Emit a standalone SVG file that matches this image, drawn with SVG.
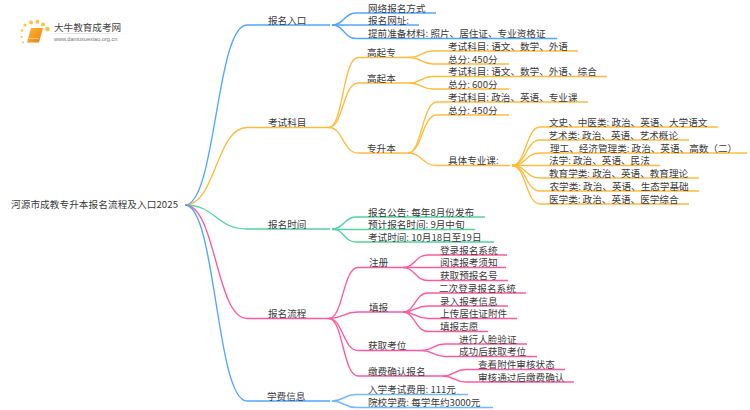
<svg xmlns="http://www.w3.org/2000/svg" width="750" height="410" viewBox="0 0 750 410">
<defs>
<linearGradient id="fade" x1="0" x2="1" y1="0" y2="0"><stop offset="0" stop-color="#ddd" stop-opacity="0"/><stop offset="0.3" stop-color="#ddd"/><stop offset="1" stop-color="#ddd" stop-opacity="0"/></linearGradient>
<linearGradient id="bk" x1="0" x2="1" y1="0" y2="1"><stop offset="0" stop-color="#fdb92e"/><stop offset="1" stop-color="#ee7d12"/></linearGradient>
</defs>
<style>
text{font-family:"Noto Sans CJK SC","Noto Sans",sans-serif;font-size:9.6px;fill:#3a3a3a}
path{fill:none;stroke-width:1.35}
.b path{stroke:#4fa6ff}
.o path{stroke:#ffbb3d}
.g path{stroke:#52d49c}
.p path{stroke:#ff5a9f}
.l path{stroke:#74b9ff;stroke-width:1.5}
.d{fill:#fdc13f}
</style>
<rect width="750" height="410" fill="#fff"/>
<g id="logo">
<circle class="d" cx="22" cy="30.5" r="1.3"/><circle class="d" cx="25" cy="25" r="1.6"/><circle class="d" cx="31" cy="22.5" r="2"/><circle class="d" cx="37.500" cy="21.800" r="2"/><circle class="d" cx="43" cy="24.500" r="2"/><circle class="d" cx="47.500" cy="29" r="2.300"/><circle class="d" cx="21.500" cy="37" r="1"/><circle class="d" cx="23" cy="42.500" r="1"/>
<path d="M31 28H43L39 42.500H27Z" style="fill:url(#bk);stroke:none"/>
<path d="M29 38.500H39" style="stroke:#ffe0a0;stroke-width:.8"/>
<rect x="45" y="33" width="88" height="1" fill="url(#fade)"/>
<text x="54" y="30.500" style="font-size:9.600px;fill:#444">大牛教育成考网</text>
<text x="54" y="41" style="font-size:5.600px;fill:#777;font-family:'Liberation Sans',sans-serif">www.daniuxuexiao.org.cn</text>
</g>
<g id="connectors">
<g class="b">
<path d="M185 205C216 205 216 25 247 25H330"/>
<path d="M332 25C344 25 344 13 356 13H436"/>
<path d="M332 25H419"/>
<path d="M332 25C344 25 344 38.500 356 38.500H557"/>
</g>
<g class="o">
<path d="M185 205C216 205 216 127.500 247 127.500H330"/>
<path d="M329 127.500C343 127.500 343 57.500 358 57.500H410"/>
<path d="M329 127.500C343 127.500 343 83 358 83H410"/>
<path d="M329 127.500C343 127.500 343 153 358 153H408"/>
<path d="M410 57.500C421 57.500 421 51 433 51H578"/>
<path d="M410 57.500C421 57.500 421 64 433 64H509"/>
<path d="M410 83C421 83 421 76.500 433 76.500H607"/>
<path d="M410 83C421 83 421 89 433 89H509"/>
<path d="M408 153C422 153 422 102 437 102H588"/>
<path d="M408 153C422 153 422 115 437 115H509"/>
<path d="M408 153C422 153 422 165.500 437 165.500H510"/>
<path d="M512 165.500C526 165.500 526 127 540 127H718"/>
<path d="M512 165.500C526 165.500 526 140 540 140H689"/>
<path d="M512 165.500C526 165.500 526 153 540 153H747"/>
<path d="M512 165.500H660"/>
<path d="M512 165.500C526 165.500 526 178 540 178H699"/>
<path d="M512 165.500C526 165.500 526 191 540 191H699"/>
<path d="M512 165.500C526 165.500 526 204 540 204H689"/>
</g>
<g class="g">
<path d="M185 205C216 205 216 229 247 229H330"/>
<path d="M332 229C344 229 344 217 356 217H485"/>
<path d="M332 229.500H475"/>
<path d="M332 229C344 229 344 242 356 242H494"/>
</g>
<g class="p">
<path d="M185 205C216 205 216 318.500 247 318.500H330"/>
<path d="M329 318.500C343 318.500 343 267.500 358 267.500H403"/>
<path d="M329 318.500C343 318.500 343 312 358 312H403"/>
<path d="M329 318.500C343 318.500 343 350.500 358 350.500H422"/>
<path d="M329 318.500C343 318.500 343 376 358 376H443"/>
<path d="M403 267.500C415 267.500 415 255 428 255H507"/>
<path d="M403 267.500H506"/>
<path d="M403 267.500C415 267.500 415 280.500 428 280.500H508"/>
<path d="M403 312C415 312 415 293 428 293H526"/>
<path d="M403 312C415 312 415 306 428 306H508"/>
<path d="M403 312C415 312 415 318.500 428 318.500H517"/>
<path d="M403 312C415 312 415 331.500 428 331.500H488"/>
<path d="M422 350.500C433 350.500 433 344 445 344H527"/>
<path d="M422 350.500C433 350.500 433 356.500 445 356.500H537"/>
<path d="M443 376C454 376 454 369.500 466 369.500H565"/>
<path d="M443 376C454 376 454 382 466 382H574"/>
</g>
<g class="b">
<path d="M185 205C216 205 216 401 247 401H330"/>
</g>
<g class="l">
<path d="M332 401C344 401 344 394.500 356 394.500H468"/>
<path d="M332 401C344 401 344 407.500 356 407.500H493"/>
</g>
</g>
<g id="root"><text x="11" y="208" letter-spacing="0.1">河源市成教专升本报名流程及入口2025</text></g>
<g id="n1"><text x="268" y="23.500">报名入口</text></g>
<g id="n1a"><text x="368" y="11.500">网络报名方式</text></g>
<g id="n1b"><text x="368" y="24">报名网址:</text></g>
<g id="n1c"><text x="368" y="37">提前准备材料: 照片、居住证、专业资格证</text></g>
<g id="n2"><text x="268" y="126">考试科目</text></g>
<g id="n2a"><text x="367" y="56">高起专</text></g>
<g id="n2a1"><text x="448" y="49.500">考试科目: 语文、数学、外语</text></g>
<g id="n2a2"><text x="448" y="62.500">总分: 450分</text></g>
<g id="n2b"><text x="367" y="81.500">高起本</text></g>
<g id="n2b1"><text x="448" y="75">考试科目: 语文、数学、外语、综合</text></g>
<g id="n2b2"><text x="448" y="87.500">总分: 600分</text></g>
<g id="n2c"><text x="367" y="151.500">专升本</text></g>
<g id="n2c1"><text x="448" y="100.500">考试科目: 政治、英语、专业课</text></g>
<g id="n2c2"><text x="448" y="113.500">总分: 450分</text></g>
<g id="n2c3"><text x="448" y="164">具体专业课:</text></g>
<g id="s1"><text x="549" y="125.500">文史、中医类: 政治、英语、大学语文</text></g>
<g id="s2"><text x="548.500" y="138.500">艺术类: 政治、英语、艺术概论</text></g>
<g id="s3"><text x="550" y="151.500">理工、经济管理类: 政治、英语、高数（二）</text></g>
<g id="s4"><text x="549" y="164">法学: 政治、英语、民法</text></g>
<g id="s5"><text x="549" y="176.500">教育学类: 政治、英语、教育理论</text></g>
<g id="s6"><text x="549.500" y="189.500">农学类: 政治、英语、生态学基础</text></g>
<g id="s7"><text x="549" y="202.500">医学类: 政治、英语、医学综合</text></g>
<g id="n3"><text x="268" y="227.500">报名时间</text></g>
<g id="n3a"><text x="368" y="215.500">报名公告: 每年8月份发布</text></g>
<g id="n3b"><text x="368" y="228">预计报名时间: 9月中旬</text></g>
<g id="n3c"><text x="368" y="240.500">考试时间: 10月18日至19日</text></g>
<g id="n4"><text x="268" y="317">报名流程</text></g>
<g id="n4a"><text x="369" y="266">注册</text></g>
<g id="n4a1"><text x="440" y="253.500">登录报名系统</text></g>
<g id="n4a2"><text x="440" y="266">阅读报考须知</text></g>
<g id="n4a3"><text x="440" y="279">获取预报名号</text></g>
<g id="n4b"><text x="369" y="310.500">填报</text></g>
<g id="n4b1"><text x="439" y="291.500">二次登录报名系统</text></g>
<g id="n4b2"><text x="440" y="304.500">录入报考信息</text></g>
<g id="n4b3"><text x="440" y="317">上传居住证附件</text></g>
<g id="n4b4"><text x="440" y="330">填报志愿</text></g>
<g id="n4c"><text x="368" y="349">获取考位</text></g>
<g id="n4c1"><text x="459" y="342.500">进行人脸验证</text></g>
<g id="n4c2"><text x="459" y="355">成功后获取考位</text></g>
<g id="n4d"><text x="368" y="374.500">缴费确认报名</text></g>
<g id="n4d1"><text x="478" y="368">查看附件审核状态</text></g>
<g id="n4d2"><text x="478" y="380.500">审核通过后缴费确认</text></g>
<g id="n5"><text x="267" y="399.500">学费信息</text></g>
<g id="n5a"><text x="368" y="393">入学考试费用: 111元</text></g>
<g id="n5b"><text x="368" y="406">院校学费: 每学年约3000元</text></g>
</svg>
